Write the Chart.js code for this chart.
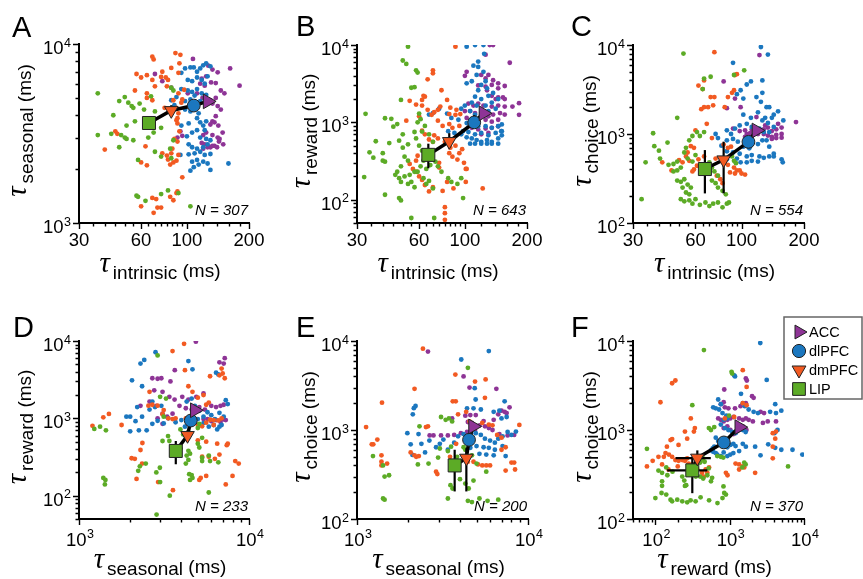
<!DOCTYPE html>
<html>
<head>
<meta charset="utf-8">
<script src="https://cdn.jsdelivr.net/npm/chart.js@4.4.1/dist/chart.umd.min.js"></script>
<style>
  body { margin: 0; background: #fff; }
  #wrap { position: relative; width: 863px; height: 579px; }
  #wrap canvas { position: absolute; left: 0; top: 0; }
</style>
</head>
<body>
<div id="wrap">
  <canvas id="pA" width="863" height="579"></canvas>
  <canvas id="pB" width="863" height="579"></canvas>
  <canvas id="pC" width="863" height="579"></canvas>
  <canvas id="pD" width="863" height="579"></canvas>
  <canvas id="pE" width="863" height="579"></canvas>
  <canvas id="pF" width="863" height="579"></canvas>
</div>
<script>
// ---- data: [x, y] pairs in ms ----
const areas = ['LIP', 'dmPFC', 'dlPFC', 'ACC'];

// A: tau_intrinsic vs tau_seasonal
const A_LIP = [[37,5300],[37,3100],[43,3150],[44,4000],[50,5050],[47,4800],[52,4700],[54,4500],[55,4400],[59,4650],[51,3500],[48,3100],[50,3000],[51,2950],[47,2650],[55,2900],[65,3000],[67,5100],[70,4200],[75,3400],[84,5700],[86,5500],[58,2250],[70,2500],[75,2350],[83,2600],[84,2300],[86,2900],[57,1420],[58,1400],[63,1330],[75,1450],[81,1520],[91,1470],[104,1240],[69,3200],[62,4300],[56,3700]];
const A_dmPFC = [[68,8500],[69,8200],[88,8900],[93,8700],[57,6800],[60,6500],[64,6700],[68,6300],[76,7000],[79,6500],[75,6550],[81,6300],[84,7350],[91,6900],[92,7800],[56,5500],[64,5300],[70,5800],[80,5800],[64,5000],[68,4850],[86,4850],[91,5300],[95,4900],[89,4400],[90,3850],[91,4100],[94,4700],[78,4400],[97,5550],[40,2570],[46,3150],[45,3250],[63,2680],[64,2100],[60,2180],[76,2450],[80,2380],[81,2260],[84,2450],[83,2120],[86,2180],[89,2230],[91,2400],[85,2600],[87,2950],[90,2850],[92,3250],[95,1800],[89,3750],[90,3600],[60,1240],[69,1140],[71,1360],[72,1220],[75,1220],[83,1400],[86,1340],[90,1500],[89,1470],[68,1380]];
const A_dlPFC = [[94,6900],[98,7300],[104,7400],[108,7400],[112,7000],[116,7300],[120,7600],[124,7800],[130,7500],[101,6300],[106,6200],[112,6500],[118,6300],[122,6000],[126,6600],[94,5600],[101,5500],[106,5400],[112,5600],[118,5300],[124,5200],[89,5050],[98,4800],[104,4900],[109,5150],[116,4800],[84,4850],[87,4550],[98,4300],[104,4200],[108,4400],[114,4100],[112,3850],[116,3650],[124,3700],[120,3500],[94,3500],[102,3600],[106,3200],[112,3300],[122,3300],[100,3050],[116,3000],[124,2950],[130,2900],[102,2750],[106,2650],[112,2600],[120,2650],[126,2750],[93,2400],[102,2420],[109,2450],[116,2500],[122,2400],[130,2430],[106,2200],[112,2250],[120,2200],[126,2150],[114,2120],[104,1960],[108,2050],[130,1980],[159,2150]];
const A_ACC = [[107,8250],[127,7570],[133,7200],[141,6950],[162,7300],[180,5850],[118,6400],[124,6600],[116,6000],[122,5850],[131,6100],[138,6050],[146,5500],[152,5300],[138,5000],[130,4850],[119,5000],[112,5300],[101,5300],[133,4650],[141,4500],[146,4300],[138,3950],[133,3700],[130,3550],[136,3650],[142,3500],[124,3200],[120,3100],[133,3100],[141,3000],[149,3200],[95,3070],[118,2800],[122,2750],[130,2650],[136,2700],[143,2850],[150,2750],[144,2950],[120,2600],[126,2650],[133,2700],[140,2650],[93,3250],[90,3000],[70,6800],[76,6200],[84,5700]];
const A_meanX = [65.5, 84, 108, 126];
const A_meanY = [3620, 4250, 4530, 4780];
const A_errX = [[63,68],[81,87],[105,111],[122,130]];
const A_errY = [[3350,3900],[3950,4550],[4300,4780],[4550,5000]];

// B: tau_intrinsic vs tau_reward
const B_LIP = [[53,9500],[50,6300],[52,5700],[58,4700],[59,4400],[55,2800],[57,2850],[49,1950],[33,1290],[41,1130],[44,1110],[37,570],[34.5,410],[32.5,196],[40,320],[41,310],[41,116],[48,105],[49,98],[47,950],[45,880],[50,700],[53,520],[50,470],[48,580],[53,320],[51,360],[49,270],[47,230],[46,210],[48,190],[51,200],[54,210],[57,230],[49,170],[53,160],[55,170],[57,145],[57,750],[58,620],[59,1000],[61,1100],[60,1300],[62,760],[60,500],[62,430],[64,370],[63,320],[61,270],[59,230],[63,190],[65,160],[67,175],[70,140],[65,250],[68,280],[72,310],[74,270],[77,230],[83,190],[71,58],[55,58],[64,900],[67,700],[70,560],[86,170],[92,160],[96,190],[98,105],[40,400],[43,540],[36,350]];
const B_dmPFC = [[90,9500],[70,4700],[70,4300],[66,3600],[63,2200],[64,2150],[62,1950],[54,1900],[58,1700],[62,1650],[77,2600],[82,1950],[76,1600],[74,1450],[85,1550],[91,1450],[90,1250],[84,1280],[95,1280],[74,1050],[78,900],[84,950],[87,850],[94,900],[66,1450],[69,1250],[71,1350],[71,680],[74,620],[80,560],[85,470],[90,500],[97,450],[94,400],[84,400],[87,360],[92,330],[99,300],[102,250],[62,780],[64,700],[67,600],[70,560],[54,290],[56,250],[58,230],[60,200],[62,180],[58,320],[59,370],[64,155],[67,128],[70,145],[78,130],[82,170],[80,80],[80,67],[80,55],[88,140],[101,170],[101,250],[122,140],[75,300],[75,260],[52,1050],[60,1200]];
const B_dlPFC = [[102,9500],[112,10000],[123,10000],[124,7700],[116,6100],[110,5400],[116,5200],[123,4500],[114,4100],[108,3400],[102,3200],[126,3400],[120,3050],[128,2750],[116,2600],[112,2150],[120,2000],[130,2200],[137,2400],[145,2000],[135,1800],[126,1650],[114,1650],[108,1800],[100,1650],[106,1400],[96,1500],[112,1260],[120,1320],[130,1400],[141,1500],[67,1260],[70,1320],[75,1500],[82,1300],[86,1140],[93,1080],[102,980],[108,940],[116,890],[126,890],[135,850],[145,890],[151,940],[98,770],[104,750],[112,700],[120,730],[130,680],[141,730],[151,770],[108,620],[114,590],[120,560],[128,590],[135,560],[145,620],[151,680],[102,640],[106,530],[112,530],[120,530],[128,530],[135,530],[145,530],[96,700],[89,730],[83,770],[150,770]];
const B_ACC = [[132,10000],[137,10000],[126,7500],[102,4500],[100,4000],[120,4100],[126,3700],[130,4100],[137,3500],[145,3200],[116,3000],[126,2900],[135,3050],[145,2750],[156,2950],[165,5900],[128,2600],[135,2200],[145,2100],[153,2100],[156,2000],[141,2000],[183,1770],[183,1250],[104,1750],[110,1650],[116,1750],[123,1650],[135,1600],[145,1650],[156,1600],[170,1600],[100,1400],[106,1400],[112,1320],[120,1260],[130,1200],[137,1260],[148,1320],[156,1260],[102,1140],[108,1080],[116,1020],[126,1080],[135,1020],[145,1080],[108,850],[116,810],[126,830],[135,850],[145,890],[120,700],[130,730]];
const B_meanX = [66.5, 84, 111, 123];
const B_meanY = [380, 566, 1000, 1310];
const B_errX = [[63,70],[80,88],[107,115],[119,127]];
const B_errY = [[255,530],[465,725],[880,1240],[1200,1450]];

// C: tau_intrinsic vs tau_choice
const C_LIP = [[52.5,8000],[33,185],[34.5,480],[37.5,1020],[40.5,530],[44,800],[44.5,450],[49,1520],[40,650],[38,730],[47,460],[49,490],[51,420],[49,390],[47,380],[49,300],[51,290],[53,310],[55,270],[57,250],[52,250],[54,220],[56,210],[51,185],[53,175],[56,180],[58,165],[60,185],[63,160],[67,170],[70,155],[73,165],[77,170],[81,150],[85,165],[87,170],[54,700],[56,850],[58,950],[61,1050],[63,950],[66,1050],[53,620],[55,530],[58,490],[60,580],[70,480],[72,420],[74,380],[77,340],[72,300],[75,280],[77,250],[81,230],[84,210],[66,4200],[71,4400],[92,4600],[103,5200],[65,3200],[90,560],[92,500],[94,470]];
const C_dmPFC = [[74,8300],[66,4000],[62,3500],[65,3200],[71,2600],[74,2600],[66,2000],[69,2000],[64,1900],[73,2100],[83,2000],[86,2600],[92,3100],[90,2900],[95,4700],[93,4600],[57,730],[59,700],[55,620],[54,560],[56,500],[62,520],[66,560],[61,440],[59,400],[58,380],[41.5,480],[46,390],[50,510],[52,480],[82,760],[86,700],[89,720],[75,530],[82,480],[86,450],[92,420],[95,390],[100,360],[104,350],[98,390],[93,360],[88,370],[76,340],[79,310],[81,280],[60,1100],[68,1300],[72,900]];
const C_dlPFC = [[124,9500],[134,7800],[91,6300],[111,3900],[106,3600],[126,4000],[99,3100],[95,2800],[102,2500],[118,2600],[124,2300],[126,2900],[132,2000],[136,2000],[143,1650],[150,1800],[159,1420],[140,1520],[102,1650],[111,1520],[120,1750],[126,1420],[130,1520],[134,1330],[85,1100],[89,1000],[93,1150],[98,1250],[106,1300],[112,1200],[122,1150],[128,1050],[136,1050],[143,1200],[75,1000],[77,900],[80,740],[85,850],[91,880],[96,820],[102,720],[109,690],[120,770],[126,850],[132,850],[136,720],[85,640],[91,620],[98,600],[106,560],[112,580],[122,560],[128,540],[136,560],[143,600],[156,520],[106,480],[112,500],[120,490],[143,560],[158,480],[85,520],[95,530],[99,480]];
const C_ACC = [[122,7700],[82,3900],[93,2500],[85,1950],[99,2000],[118,1550],[91,1150],[98,1080],[104,1100],[112,1120],[118,1050],[122,1080],[128,1130],[134,1180],[140,1080],[147,1130],[156,1180],[106,1000],[112,950],[120,1000],[128,1000],[134,960],[140,930],[147,980],[156,1000],[140,880],[147,900],[156,910],[183,1360],[110,1020],[104,930],[130,1250],[150,1300]];
const C_meanX = [66.6, 82, 108, 118];
const C_meanY = [404, 513, 816, 1095];
const C_errX = [[63,70],[78,86],[104,112],[114,122]];
const C_errY = [[215,660],[215,820],[700,950],[1000,1200]];

// D: tau_seasonal vs tau_reward
const D_LIP = [[1230,730],[1330,780],[1440,700],[1390,170],[1430,160],[1420,140],[2230,210],[2280,240],[2470,260],[2900,6500],[2850,200],[2990,230],[3000,150],[3100,510],[2860,57],[3420,100],[3340,590],[3400,510],[3000,1900],[3250,1800],[3150,1050],[3950,410],[4400,380],[4500,350],[4300,330],[4250,260],[4400,290],[4450,190],[4600,185],[4650,170],[4500,160],[5000,470],[5100,420],[5300,560],[5300,310],[5300,280],[5800,330],[5900,280],[5800,110],[6600,270],[3950,720],[4100,620],[5000,750],[5100,850]];
const D_dmPFC = [[1200,800],[1390,1030],[1500,1140],[1780,820],[2040,305],[2130,300],[2180,165],[2350,260],[2300,390],[2360,480],[2560,1460],[2600,2200],[2700,1500],[2900,1460],[3150,1280],[3100,1130],[3350,1000],[3550,980],[3700,1000],[3570,118],[2920,150],[3550,7400],[4150,9200],[4200,4200],[4400,2600],[4650,2200],[5000,1850],[5400,2000],[5600,1500],[5800,1600],[4250,1000],[4650,880],[5000,820],[5300,790],[5600,880],[5900,960],[6200,820],[5000,520],[5600,500],[5300,320],[5800,320],[6300,300],[6700,340],[5200,170],[5600,180],[5100,160],[5900,3500],[6700,3600],[6900,4400],[7200,3300],[7000,3800],[6500,470],[7400,450],[7500,470],[8300,280],[8700,260],[8000,180],[7300,140],[6200,950],[6600,940],[6900,1000]];
const D_dlPFC = [[2820,7150],[2300,5100],[2420,5700],[2050,3100],[2350,2600],[2200,1400],[2000,1050],[1900,1050],[2000,680],[2700,1650],[2800,1400],[3050,1450],[2600,1300],[2350,1050],[2150,920],[2250,700],[2500,700],[2700,850],[2900,930],[3150,860],[3350,1000],[3700,890],[4000,950],[4200,780],[4400,850],[4400,5500],[4650,4300],[4300,1650],[4600,1800],[4800,1450],[5100,1250],[5400,1050],[5700,1200],[6000,1100],[6300,980],[6700,1180],[7100,1050],[5000,980],[5400,870],[5800,780],[6200,820],[6500,720],[6700,780],[6900,820],[6400,3900],[6600,3700],[7300,1720],[7500,1530]];
const D_ACC = [[4870,9800],[3660,4200],[2700,3300],[2900,3250],[3050,3300],[3450,3000],[2770,2300],[3100,2200],[3400,1900],[3650,1750],[4050,1900],[4400,1750],[4900,1900],[5400,2100],[2600,1650],[2850,1450],[3100,1150],[3300,1050],[3550,1150],[3900,1450],[4250,1350],[4600,1300],[5100,1400],[5500,1300],[6000,1450],[6400,1400],[6800,1450],[7100,1500],[5400,980],[5700,980],[6000,920],[6400,950],[6800,900],[7100,970],[7300,950],[6700,5300],[7200,6000],[7100,5100],[2300,1450],[2900,1000],[3100,850]];
const D_meanX = [3710, 4350, 4545, 4800];
const D_meanY = [379, 601, 937, 1273];
const D_errX = [[3550,3870],[4200,4500],[4400,4700],[4650,4950]];
const D_errY = [[255,510],[500,700],[830,1050],[1150,1400]];

// E: tau_seasonal vs tau_choice
const E_LIP = [[1240,510],[1420,400],[1450,300],[1540,310],[1420,170],[1450,165],[2320,1100],[2270,410],[2620,420],[3100,1400],[3300,1300],[3450,1350],[3600,1250],[2980,490],[3050,620],[3400,580],[3550,650],[3850,500],[3520,240],[3620,220],[3400,170],[4450,5000],[4000,280],[4300,250],[4500,220],[4800,270],[4450,160],[4700,155],[5200,170],[5800,160],[6700,165],[5700,340],[5000,420],[4700,520],[4200,640],[4300,600],[3800,410]];
const E_dmPFC = [[1130,1080],[1220,690],[1245,690],[1315,780],[1400,2030],[1390,520],[1390,440],[1390,400],[1500,420],[2170,2900],[2060,560],[2170,520],[2220,500],[2300,510],[2430,8200],[2600,1100],[2530,1080],[2900,340],[2950,320],[3630,2100],[3780,2100],[3760,4200],[3900,1500],[4350,1600],[4550,1250],[4900,3500],[5650,3700],[5600,2300],[4250,480],[4450,440],[4800,440],[5100,410],[5400,400],[5700,400],[6000,400],[5400,1200],[5900,1150],[6200,1130],[6600,880],[7000,820],[7000,600],[7400,640],[8000,430],[8300,430],[8400,360],[7400,350],[8900,1140],[3800,700],[3500,500]];
const E_dlPFC = [[1970,920],[2150,1760],[2200,1860],[2120,1500],[2060,690],[2110,525],[2290,900],[2380,700],[2500,560],[2650,760],[2900,640],[3050,700],[3200,780],[3400,600],[3700,720],[4070,6200],[4880,2950],[4940,2200],[5900,7700],[3900,850],[4200,900],[4650,950],[4950,920],[5300,880],[5600,800],[6000,760],[6400,720],[6700,800],[7100,850],[7600,950],[8000,880],[8500,960],[4400,1750],[4800,1750],[5300,1700],[6300,1600],[6800,1650],[7300,2100],[4600,630],[5000,660],[5500,640],[5900,630],[6400,600],[7100,660],[5200,540],[5700,530],[6300,520],[7400,510],[7000,1350],[7500,1400]];
const E_ACC = [[2600,7600],[4200,4000],[4550,3000],[6530,2900],[6700,1500],[7000,1650],[7300,1600],[7800,1800],[7500,1550],[2660,870],[2800,870],[3100,870],[3400,870],[3700,880],[4050,920],[4400,950],[4700,1200],[5200,1130],[5600,1100],[5900,1050],[6200,1000],[6300,1300],[6800,900],[7600,870],[8300,880],[4300,1450],[4600,1470],[4950,1470],[5500,1260],[4450,1230],[4900,1000],[3600,1350]];
const E_meanX = [3725, 4360, 4520, 4770];
const E_meanY = [400, 483, 776, 1095];
const E_errX = [[3600,3850],[4220,4500],[4380,4660],[4620,4920]];
const E_errY = [[204,600],[204,625],[680,880],[1000,1200]];

// F: tau_reward vs tau_choice
const F_LIP = [[450,7900],[1060,4500],[1080,4300],[77,615],[123,265],[123,236],[100,172],[121,196],[140,188],[160,165],[168,158],[197,165],[230,158],[268,154],[298,162],[348,158],[406,175],[528,162],[685,151],[800,172],[845,196],[890,188],[825,232],[314,1900],[230,300],[245,270],[350,300],[400,300],[260,240],[250,235],[140,380],[170,340],[123,330],[110,350],[145,310],[500,310],[580,290],[560,265],[440,285],[400,430],[460,440],[520,370],[525,1050],[560,1000],[620,1080],[680,510],[760,500],[820,490],[1570,430],[1640,410],[1480,380],[6100,390],[980,1450],[406,450],[440,480]];
const F_dmPFC = [[168,3350],[186,3600],[117,2050],[160,770],[168,790],[143,650],[130,500],[77,390],[110,500],[123,410],[137,550],[152,530],[168,500],[186,460],[205,450],[230,460],[250,450],[268,480],[280,420],[314,410],[205,680],[268,800],[250,960],[300,1350],[340,1050],[330,960],[365,500],[390,450],[365,360],[425,330],[475,360],[500,330],[528,380],[450,300],[890,330],[935,310],[1200,420],[1340,410],[1340,360],[1500,390],[1570,380],[1500,4700],[1690,3050],[1500,2000],[1690,1900],[2200,330],[3800,480],[3800,920],[4100,800],[4200,960],[3800,650],[1150,1400],[860,1350],[92,450],[150,360],[200,390]];
const F_dlPFC = [[2580,9500],[3150,3650],[1420,2550],[1150,4100],[1180,4000],[700,2200],[760,1950],[600,1800],[650,1750],[720,1700],[800,1550],[900,1450],[1500,2000],[1600,1850],[1800,1700],[2100,1600],[2400,1550],[3500,1600],[4100,1950],[4200,1550],[4950,1650],[930,1350],[830,1300],[760,1150],[860,1050],[960,1000],[1080,950],[1200,920],[1500,1000],[1640,950],[650,820],[700,750],[760,680],[860,660],[930,640],[1020,680],[1120,700],[1200,660],[1500,700],[1650,650],[600,570],[650,550],[680,530],[760,510],[830,560],[930,510],[1020,530],[1120,550],[1340,580],[2200,650],[2600,520],[3300,690],[4000,920],[4400,1000],[4100,630],[4950,600],[7000,600],[9500,530],[560,590],[590,620],[620,650]];
const F_ACC = [[845,2850],[1650,3800],[1700,3600],[760,1950],[830,2050],[860,1800],[960,1750],[1180,1750],[1400,1850],[1650,2000],[2000,2400],[2100,2300],[700,1350],[760,1300],[830,1250],[930,1300],[1020,1350],[1130,1400],[1340,1350],[1500,1300],[1650,1350],[1800,1300],[2050,1250],[1500,1100],[1340,1000],[1680,1000],[2600,1600],[2900,1550],[3250,1250],[4200,1250],[2800,1200],[930,1100],[830,1050],[1020,1000],[1130,900],[1230,950]];
const F_meanX = [314, 367, 834, 1345];
const F_meanY = [352, 484, 725, 1077];
const F_errX = [[144,500],[187,557],[720,960],[1200,1500]];
const F_errY = [[195,500],[400,590],[630,830],[980,1180]];

// tick labels
const intrinsicTicks = [30, 35, 40, 45, 50, 55, 60, 65, 70, 75, 80, 85, 90, 95, 100, 120, 140, 160, 180, 200];
const intrinsicLabeled = [30, 60, 100, 200];
const decadeValues = [100, 1000, 10000];
const decadeExps = ['2', '3', '4'];
const nCounts = { A: 307, B: 643, C: 554, D: 233, E: 200, F: 370 };

// ---- styling ----
const colors = { ACC: '#8e3496', dlPFC: '#1b77bf', dmPFC: '#f25a22', LIP: '#5cab26' };
const markerStyle = ['rect', 'triangle', 'circle', 'triangle'];
const markerRot = [0, 180, 0, 90];
const markerRad = [9.2, 7.8, 6.4, 8.5];
const FONT = '"Liberation Sans", Arial, Helvetica, sans-serif';
const TICK_PX = 18.5;

function decadeTicks(min, max) {
  const out = [];
  for (let e = 1; e <= 4; e++) {
    for (let m = 1; m <= 9; m++) {
      const v = m * Math.pow(10, e);
      if (v >= min && v <= max) out.push(v);
    }
  }
  return out;
}
function isMajor(v, kind) {
  return kind === 'intrinsic' ? intrinsicLabeled.includes(v) : decadeValues.includes(v);
}

function drawMarker(ctx, style, rot, r, x, y, color) {
  ctx.save();
  ctx.translate(x, y);
  ctx.rotate(rot * Math.PI / 180);
  ctx.beginPath();
  if (style === 'circle') ctx.arc(0, 0, r, 0, Math.PI * 2);
  else if (style === 'rect') { const s = r * Math.SQRT1_2; ctx.rect(-s, -s, 2 * s, 2 * s); }
  else {
    for (let k = 0; k < 3; k++) {
      const a = k * 2 * Math.PI / 3;
      const px = Math.sin(a) * r, py = -Math.cos(a) * r;
      if (k === 0) ctx.moveTo(px, py); else ctx.lineTo(px, py);
    }
    ctx.closePath();
  }
  ctx.fillStyle = color; ctx.fill();
  ctx.lineWidth = 1; ctx.strokeStyle = '#222'; ctx.stroke();
  ctx.restore();
}

function drawTauTitle(ctx, x, y, sub, vertical) {
  ctx.save();
  ctx.translate(x, y);
  if (vertical) ctx.rotate(-Math.PI / 2);
  ctx.fillStyle = '#000';
  ctx.textBaseline = 'alphabetic';
  ctx.textAlign = 'left';
  const tauFont = 'italic 29px "Liberation Serif", "DejaVu Serif", serif';
  const txtFont = '19px ' + FONT;
  ctx.font = tauFont; const wT = ctx.measureText('\u03c4').width;
  ctx.font = txtFont; const wS = ctx.measureText(sub).width; const wR = ctx.measureText(' (ms)').width;
  let cx = -(wT + 3 + wS + wR) / 2;
  ctx.font = tauFont; ctx.fillText('\u03c4', cx, -5); cx += wT + 3;
  ctx.font = txtFont; ctx.fillText(sub, cx, 2); cx += wS;
  ctx.fillText(' (ms)', cx, 0);
  ctx.restore();
}

// "10" with a raised exponent
function drawPow(ctx, exp, x, base, align) {
  ctx.font = TICK_PX + 'px ' + FONT;
  const w1 = ctx.measureText('10').width;
  ctx.font = '12.5px ' + FONT;
  const w2 = ctx.measureText(exp).width;
  const x0 = align === 'right' ? x - w1 - w2 - 0.5 : x - (w1 + w2 + 0.5) / 2;
  ctx.font = TICK_PX + 'px ' + FONT;
  ctx.fillText('10', x0, base);
  ctx.font = '12.5px ' + FONT;
  ctx.fillText(exp, x0 + w1 + 0.5, base - 7.5);
}

const deco = {
  id: 'deco',
  afterDraw(chart, args, o) {
    const ctx = chart.ctx, a = chart.chartArea;
    const xs = chart.scales.x, ys = chart.scales.y;
    ctx.save();
    ctx.strokeStyle = '#000';
    ctx.lineWidth = 1.4;
    ctx.beginPath();
    xs.ticks.forEach(t => {
      const p = Math.round(xs.getPixelForValue(t.value)) + 0.5;
      const len = isMajor(t.value, o.xKind) ? 6 : 3.5;
      ctx.moveTo(p, a.bottom); ctx.lineTo(p, a.bottom + len);
    });
    ys.ticks.forEach(t => {
      const p = Math.round(ys.getPixelForValue(t.value)) + 0.5;
      const len = isMajor(t.value, o.yKind) ? 6 : 3.5;
      ctx.moveTo(a.left, p); ctx.lineTo(a.left - len, p);
    });
    ctx.stroke();
    ctx.fillStyle = '#000';
    ctx.textAlign = 'left';
    ctx.textBaseline = 'alphabetic';
    // decade tick labels with superscripts
    decadeValues.forEach((v, i) => {
      if (o.yKind === 'decade' && v >= ys.min && v <= ys.max)
        drawPow(ctx, decadeExps[i], a.left - 8, ys.getPixelForValue(v) + 10, 'right');
      if (o.xKind === 'decade' && v >= xs.min && v <= xs.max)
        drawPow(ctx, decadeExps[i], xs.getPixelForValue(v) + 1, a.bottom + 26.5, 'center');
    });
    // panel letter
    ctx.font = '29px ' + FONT;
    ctx.fillText(o.letter, o.letterPos[0], o.letterPos[1]);
    // N label
    ctx.font = 'italic 15px ' + FONT;
    ctx.textAlign = 'right';
    ctx.fillText('N = ' + nCounts[o.letter], a.right - 1, a.bottom - 8);
    ctx.restore();
    drawTauTitle(ctx, (a.left + a.right) / 2 - 4, a.bottom + 54, o.xName, false);
    drawTauTitle(ctx, o.yTitleX, (a.top + a.bottom) / 2 - 3, o.yName, true);
    if (o.legend) {
      ctx.save();
      ctx.fillStyle = '#fff';
      ctx.strokeStyle = '#666';
      ctx.lineWidth = 1.5;
      ctx.fillRect(784, 317, 78, 82);
      ctx.strokeRect(784, 317, 78, 82);
      const order = [3, 2, 1, 0];
      const ys2 = [332, 351, 370, 389];
      order.forEach((k, i) => {
        const r = k === 0 ? 9 : (k === 2 ? 6.6 : 8);
        drawMarker(ctx, markerStyle[k], markerRot[k], r, 799, ys2[i], colors[areas[k]]);
        ctx.fillStyle = '#000';
        ctx.font = '14.5px ' + FONT;
        ctx.textAlign = 'left';
        ctx.textBaseline = 'middle';
        ctx.fillText(areas[k], 809, ys2[i] + 1);
      });
      ctx.restore();
    }
  }
};

function pts(list) { return list.map(p => ({ x: p[0], y: p[1] })); }

function makePanel(cfg) {
  const cloudSets = areas.map(name => ({
    label: name,
    data: pts(cfg.clouds[name]),
    backgroundColor: colors[name],
    borderWidth: 0,
    pointRadius: 2.4,
    order: 3
  }));
  // error bars: one small two-point line per bar
  const errSets = [];
  for (let i = 0; i < 4; i++) {
    errSets.push({ label: 'ey' + i, data: [{ x: cfg.mx[i], y: cfg.ey[i][0] }, { x: cfg.mx[i], y: cfg.ey[i][1] }],
      showLine: true, borderColor: '#000', borderWidth: 2.2, pointRadius: 0, order: 2 });
    errSets.push({ label: 'ex' + i, data: [{ x: cfg.ex[i][0], y: cfg.my[i] }, { x: cfg.ex[i][1], y: cfg.my[i] }],
      showLine: true, borderColor: '#000', borderWidth: 2.2, pointRadius: 0, order: 2 });
  }
  const meanSet = {
    label: 'mean',
    data: cfg.mx.map((x, i) => ({ x: x, y: cfg.my[i] })),
    showLine: true, borderColor: '#000', borderWidth: 3.5,
    pointStyle: markerStyle, rotation: markerRot, pointRadius: markerRad,
    pointBackgroundColor: areas.map(n => colors[n]),
    pointBorderColor: '#222', pointBorderWidth: 1, order: 1
  };
  const axis = (range, kind, isX) => ({
    type: 'logarithmic',
    min: range[0], max: range[1],
    afterBuildTicks: s => {
      const vals = kind === 'intrinsic' ? intrinsicTicks : decadeTicks(range[0], range[1]);
      s.ticks = vals.map(v => ({ value: v }));
    },
    afterFit: s => {
      if (isX) s.height = 579 - cfg.area[3]; else s.width = cfg.area[0];
      s.paddingLeft = 0; s.paddingRight = 0; s.paddingTop = 0; s.paddingBottom = 0;
    },
    grid: { display: false, drawTicks: true, tickLength: 6 },
    border: { display: true, color: '#000', width: 2 },
    ticks: {
      autoSkip: false, maxRotation: 0, color: '#000', font: { family: FONT, size: TICK_PX },
      padding: 1,
      // decade labels get superscripts and are drawn by the deco plugin
      callback: v => (kind === 'intrinsic' && intrinsicLabeled.includes(v)) ? String(v) : ''
    }
  });
  return new Chart(document.getElementById(cfg.id), {
    type: 'scatter',
    data: { datasets: [meanSet].concat(errSets, cloudSets) },
    options: {
      responsive: false, animation: false, events: [],
      layout: { padding: { left: 0, top: cfg.area[1], right: 863 - cfg.area[2], bottom: 0 } },
      scales: {
        x: axis(cfg.xr, cfg.xKind, true),
        y: axis(cfg.yr, cfg.yKind, false)
      },
      plugins: {
        legend: { display: false }, tooltip: { enabled: false },
        deco: { letter: cfg.letter, letterPos: cfg.letterPos, xName: cfg.xName, yName: cfg.yName,
                yTitleX: cfg.yTitleX, legend: !!cfg.legend, xKind: cfg.xKind, yKind: cfg.yKind }
      }
    },
    plugins: [deco]
  });
}

makePanel({ id: 'pA', letter: 'A', letterPos: [12, 37], area: [79, 44, 249, 223], xr: [30, 200], yr: [1000, 10000],
  xKind: 'intrinsic', yKind: 'decade', xName: 'intrinsic', yName: 'seasonal', yTitleX: 31,
  clouds: { LIP: A_LIP, dmPFC: A_dmPFC, dlPFC: A_dlPFC, ACC: A_ACC }, mx: A_meanX, my: A_meanY, ex: A_errX, ey: A_errY });
makePanel({ id: 'pB', letter: 'B', letterPos: [296, 36], area: [357, 45, 527, 223], xr: [30, 200], yr: [50, 10000],
  xKind: 'intrinsic', yKind: 'decade', xName: 'intrinsic', yName: 'reward', yTitleX: 315,
  clouds: { LIP: B_LIP, dmPFC: B_dmPFC, dlPFC: B_dlPFC, ACC: B_ACC }, mx: B_meanX, my: B_meanY, ex: B_errX, ey: B_errY });
makePanel({ id: 'pC', letter: 'C', letterPos: [571, 36], area: [633, 45, 804, 223], xr: [30, 200], yr: [100, 10000],
  xKind: 'intrinsic', yKind: 'decade', xName: 'intrinsic', yName: 'choice', yTitleX: 596,
  clouds: { LIP: C_LIP, dmPFC: C_dmPFC, dlPFC: C_dlPFC, ACC: C_ACC }, mx: C_meanX, my: C_meanY, ex: C_errX, ey: C_errY });
makePanel({ id: 'pD', letter: 'D', letterPos: [13, 337], area: [79, 341, 249, 519], xr: [1000, 10000], yr: [50, 10000],
  xKind: 'decade', yKind: 'decade', xName: 'seasonal', yName: 'reward', yTitleX: 31,
  clouds: { LIP: D_LIP, dmPFC: D_dmPFC, dlPFC: D_dlPFC, ACC: D_ACC }, mx: D_meanX, my: D_meanY, ex: D_errX, ey: D_errY });
makePanel({ id: 'pE', letter: 'E', letterPos: [296, 337], area: [357, 341, 528, 519], xr: [1000, 10000], yr: [100, 10000],
  xKind: 'decade', yKind: 'decade', xName: 'seasonal', yName: 'choice', yTitleX: 315,
  clouds: { LIP: E_LIP, dmPFC: E_dmPFC, dlPFC: E_dlPFC, ACC: E_ACC }, mx: E_meanX, my: E_meanY, ex: E_errX, ey: E_errY });
makePanel({ id: 'pF', letter: 'F', letterPos: [571, 337], area: [633, 341, 804, 519], xr: [50, 10000], yr: [100, 10000],
  xKind: 'decade', yKind: 'decade', xName: 'reward', yName: 'choice', yTitleX: 596, legend: true,
  clouds: { LIP: F_LIP, dmPFC: F_dmPFC, dlPFC: F_dlPFC, ACC: F_ACC }, mx: F_meanX, my: F_meanY, ex: F_errX, ey: F_errY });
</script>
</body>
</html>
